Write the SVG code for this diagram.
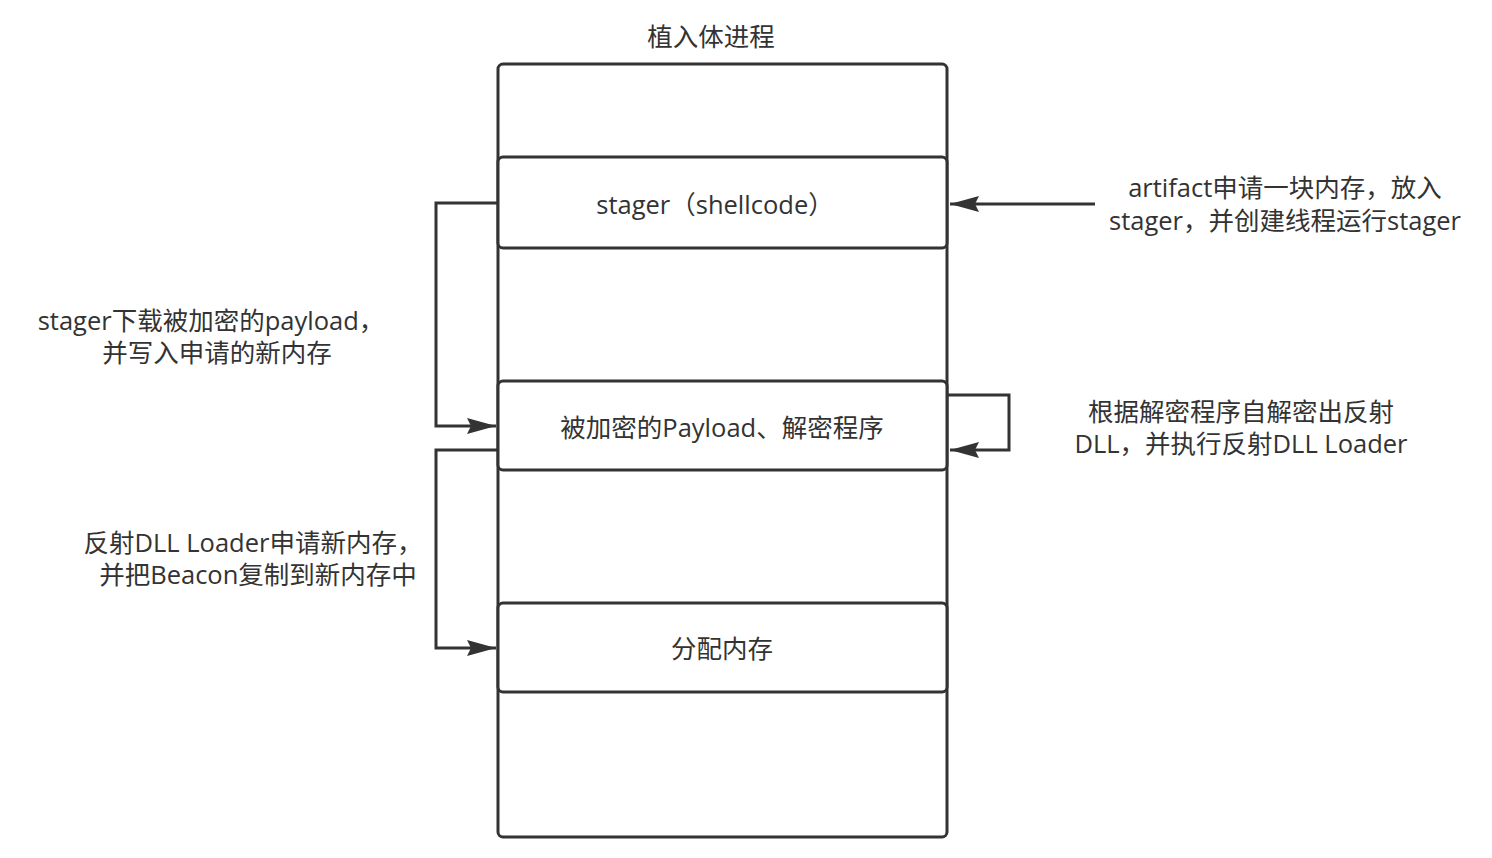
<svg xmlns="http://www.w3.org/2000/svg" width="1492" height="858" viewBox="0 0 1492 858">
<style>
.box{fill:#fff;stroke:#333;stroke-width:3}
.t{font-family:"Open Sans","Noto Sans CJK SC",sans-serif;font-size:25.5px;fill:#333;text-anchor:middle;dominant-baseline:central}
.c{fill:none;stroke:#333;stroke-width:3}
</style>
<defs>
<marker id="a" viewBox="0 0 30 20" refX="29" refY="10" markerWidth="30" markerHeight="20" markerUnits="userSpaceOnUse" orient="auto">
<path d="M0,2 L29,10 L0,18 L4,10 Z" fill="#333"/>
</marker>
</defs>
<rect width="1492" height="858" fill="#fff"/>
<g id="process">
<rect class="box" x="498" y="64" width="449" height="773" rx="5"/>
<text class="t" x="711" y="36">植入体进程</text>
</g>
<g id="stager">
<rect class="box" x="498" y="157" width="449" height="91" rx="5"/>
<text class="t" x="715" y="204">stager（shellcode）</text>
</g>
<g id="payload">
<rect class="box" x="498" y="381" width="449" height="89" rx="5"/>
<text class="t" x="722" y="427">被加密的Payload、解密程序</text>
</g>
<g id="alloc">
<rect class="box" x="498" y="603" width="449" height="89" rx="5"/>
<text class="t" x="722" y="648">分配内存</text>
</g>
<g id="connectors">
<path class="c" d="M498,203 H436 V426 H496" marker-end="url(#a)"/>
<path class="c" d="M498,450 H436 V648 H496" marker-end="url(#a)"/>
<path class="c" d="M1095,204 H950" marker-end="url(#a)"/>
<path class="c" d="M948,395 H1009 V450 H950" marker-end="url(#a)"/>
</g>
<g id="labels">
<text class="t" x="211" y="320">stager下载被加密的payload，</text>
<text class="t" x="217" y="352">并写入申请的新内存</text>
<text class="t" x="253" y="542">反射DLL Loader申请新内存，</text>
<text class="t" x="258" y="574">并把Beacon复制到新内存中</text>
<text class="t" x="1285" y="187">artifact申请一块内存，放入</text>
<text class="t" x="1285" y="220">stager，并创建线程运行stager</text>
<text class="t" x="1241" y="411">根据解密程序自解密出反射</text>
<text class="t" x="1241" y="443">DLL，并执行反射DLL Loader</text>
</g>
</svg>
